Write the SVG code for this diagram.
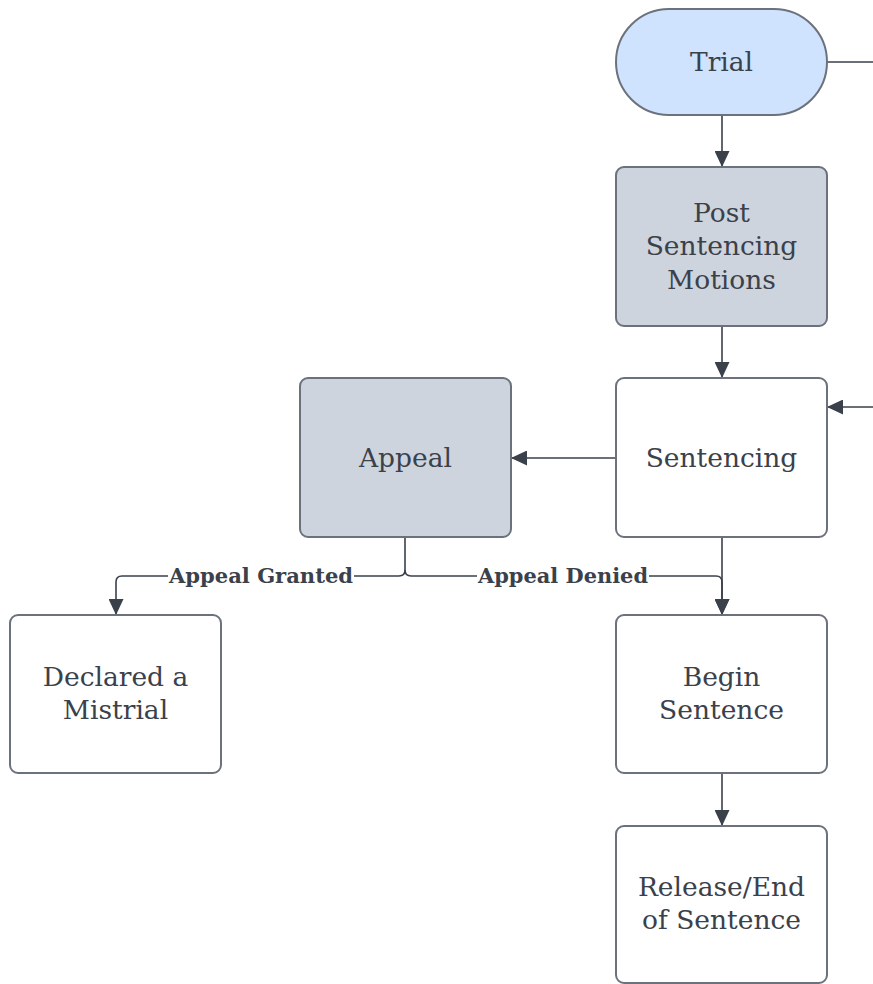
<svg xmlns="http://www.w3.org/2000/svg" width="873" height="984" viewBox="0 0 873 984">
<style>
.box{stroke:#6c727c;stroke-width:2;fill:#ffffff}
.gray{fill:#cdd4dd}
.blue{fill:#cfe3fe}
.t{font-family:"DejaVu Serif","Liberation Serif",serif;font-size:26.5px;fill:#3a414b;text-anchor:middle}
.lbl{font-family:"DejaVu Serif","Liberation Serif",serif;font-size:20.5px;font-weight:bold;fill:#3a414b;text-anchor:middle}
.c{fill:none;stroke:#3a414b;stroke-width:1.6}
</style>
<defs>
<marker id="ah" viewBox="0 0 16 15" refX="16" refY="7.5" markerWidth="16" markerHeight="15" markerUnits="userSpaceOnUse" orient="auto">
<path d="M0,0 L16,7.5 L0,15 Z" fill="#3a414b"/>
</marker>
</defs>
<rect width="873" height="984" fill="#ffffff"/>
<g id="connectors">
<path class="c" d="M827,62 L873,62"/>
<path class="c" d="M722,115 L722,167" marker-end="url(#ah)"/>
<path class="c" d="M722,326 L722,378" marker-end="url(#ah)"/>
<path class="c" d="M873,407 L827,407" marker-end="url(#ah)"/>
<path class="c" d="M616,458 L511,458" marker-end="url(#ah)"/>
<path class="c" d="M722,537 L722,615" marker-end="url(#ah)"/>
<path class="c" d="M405,537 L405,570 Q405,576 399,576 L122,576 Q116,576 116,582 L116,615" marker-end="url(#ah)"/>
<path class="c" d="M405,570 Q405,576 411,576 L716,576 Q722,576 722,582 L722,615" marker-end="url(#ah)"/>
<path class="c" d="M722,773 L722,826" marker-end="url(#ah)"/>
<rect x="168" y="564" width="186" height="24" fill="#ffffff"/>
<text class="lbl" x="261" y="583" textLength="184" lengthAdjust="spacingAndGlyphs">Appeal Granted</text>
<rect x="477" y="564" width="172" height="24" fill="#ffffff"/>
<text class="lbl" x="563" y="583" textLength="170" lengthAdjust="spacingAndGlyphs">Appeal Denied</text>
</g>
<g id="trial">
<rect class="box blue" x="616" y="9" width="211" height="106" rx="53"/>
<text class="t" x="721.5" y="71">Trial</text>
</g>
<g id="post-sentencing-motions">
<rect class="box gray" x="616" y="167" width="211" height="159" rx="8"/>
<text class="t" x="721.5" y="222">Post</text>
<text class="t" x="721.5" y="255">Sentencing</text>
<text class="t" x="721.5" y="289">Motions</text>
</g>
<g id="sentencing">
<rect class="box" x="616" y="378" width="211" height="159" rx="8"/>
<text class="t" x="721.5" y="467">Sentencing</text>
</g>
<g id="appeal">
<rect class="box gray" x="300" y="378" width="211" height="159" rx="8"/>
<text class="t" x="405.5" y="467">Appeal</text>
</g>
<g id="declared-mistrial">
<rect class="box" x="10" y="615" width="211" height="158" rx="8"/>
<text class="t" x="115.5" y="686">Declared a</text>
<text class="t" x="115.5" y="719">Mistrial</text>
</g>
<g id="begin-sentence">
<rect class="box" x="616" y="615" width="211" height="158" rx="8"/>
<text class="t" x="721.5" y="686">Begin</text>
<text class="t" x="721.5" y="719">Sentence</text>
</g>
<g id="release">
<rect class="box" x="616" y="826" width="211" height="157" rx="8"/>
<text class="t" x="721.5" y="896">Release/End</text>
<text class="t" x="721.5" y="929">of Sentence</text>
</g>
</svg>
